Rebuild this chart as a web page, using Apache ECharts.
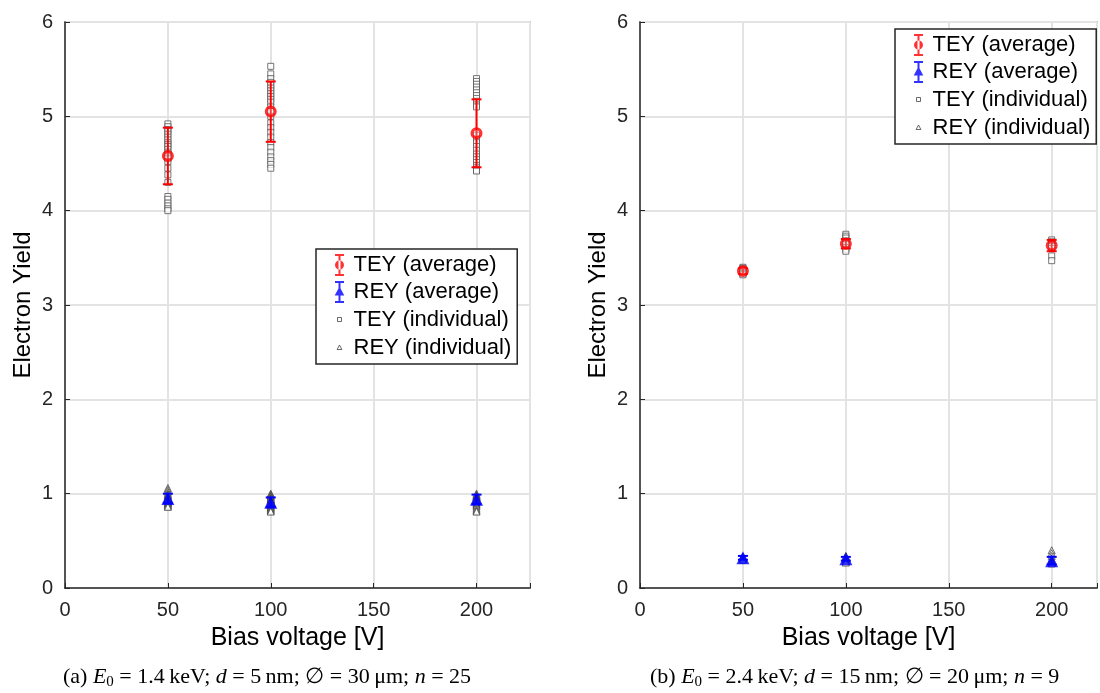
<!DOCTYPE html>
<html>
<head>
<meta charset="utf-8">
<script src="https://cdn.jsdelivr.net/npm/echarts@6/dist/echarts.min.js"></script>
<style>
html,body{margin:0;padding:0;background:#fff;}
#chart{width:1100px;height:693px;}
</style>
</head>
<body>
<div id="chart"></div>
<script>
// ---------- DATA ----------
const voltages = [50, 100, 200];
const xTicks = [0, 50, 100, 150, 200];
const yTicks = [0, 1, 2, 3, 4, 5, 6];

// Panel (a): n = 25
const aTeyIndiv50  = [4.92,4.89,4.86,4.84,4.81,4.78,4.75,4.72,4.70,4.68,4.65,4.62,4.60,4.57,4.55,4.52,4.45,4.38,4.30,4.15,4.12,4.08,4.05,4.02,4.00];
const aTeyIndiv100 = [5.53,5.45,5.40,5.36,5.33,5.30,5.27,5.24,5.21,5.18,5.15,5.10,5.05,5.00,4.93,4.88,4.83,4.78,4.72,4.67,4.62,4.57,4.53,4.49,4.45];
const aTeyIndiv200 = [5.40,5.37,5.34,5.31,5.28,5.25,5.22,5.19,5.16,5.12,5.10,4.80,4.76,4.72,4.68,4.64,4.60,4.57,4.54,4.51,4.48,4.46,4.44,4.43,4.42];
const aReyIndiv50  = [1.06,1.04,1.02,1.00,0.99,0.98,0.97,0.96,0.96,0.95,0.95,0.94,0.94,0.93,0.93,0.92,0.92,0.91,0.91,0.90,0.90,0.89,0.88,0.87,0.86];
const aReyIndiv100 = [1.00,0.99,0.98,0.97,0.96,0.95,0.94,0.94,0.93,0.93,0.92,0.92,0.91,0.91,0.90,0.90,0.89,0.88,0.87,0.86,0.85,0.84,0.83,0.82,0.81];
const aReyIndiv200 = [1.00,0.99,0.98,0.98,0.97,0.97,0.96,0.96,0.95,0.95,0.94,0.94,0.93,0.93,0.92,0.92,0.91,0.90,0.89,0.88,0.87,0.85,0.83,0.82,0.81];
const aTeyAvg = [4.58, 5.05, 4.82];
const aTeyErr = [0.30, 0.32, 0.36];
const aReyAvg = [0.95, 0.91, 0.94];
const aReyErr = [0.05, 0.05, 0.05];

// Panel (b): n = 9
const bTeyIndiv50  = [3.40,3.39,3.38,3.37,3.36,3.35,3.34,3.33,3.32];
const bTeyIndiv100 = [3.75,3.73,3.71,3.68,3.66,3.64,3.61,3.59,3.57];
const bTeyIndiv200 = [3.69,3.67,3.66,3.65,3.64,3.62,3.60,3.52,3.47];
const bReyIndiv50  = [0.33,0.33,0.32,0.32,0.32,0.31,0.31,0.31,0.30];
const bReyIndiv100 = [0.34,0.33,0.32,0.32,0.31,0.30,0.29,0.28,0.27];
const bReyIndiv200 = [0.40,0.37,0.34,0.31,0.29,0.28,0.27,0.27,0.26];
const bTeyAvg = [3.36, 3.65, 3.63];
const bTeyErr = [0.03, 0.05, 0.06];
const bReyAvg = [0.32, 0.31, 0.29];
const bReyErr = [0.02, 0.02, 0.04];

const legendNames = ['TEY (average)', 'REY (average)', 'TEY (individual)', 'REY (individual)'];
const captionA = '(a) {i|E}{s|0} = 1.4\u2009keV; {i|d} = 5\u2009nm; \u2205 = 30\u2009\u03bcm; {i|n} = 25';
const captionB = '(b) {i|E}{s|0} = 2.4\u2009keV; {i|d} = 15\u2009nm; \u2205 = 20\u2009\u03bcm; {i|n} = 9';

// ---------- BUILD ----------
const FONT = 'Liberation Sans, Arial, Helvetica, sans-serif';
const SERIF = 'Liberation Serif, Times New Roman, serif';
function indivPoints(lists) {
  const pts = [];
  lists.forEach((arr, k) => arr.forEach(v => pts.push([voltages[k], v])));
  return pts;
}
function avgPoints(avg, err) {
  return avg.map((v, k) => [voltages[k], v, err[k]]);
}
function errorSeries(name, idx, avg, err, color) {
  return {
    name: name, type: 'custom', xAxisIndex: idx, yAxisIndex: idx, z: 5,
    data: avgPoints(avg, err),
    renderItem: function (params, api) {
      const x = api.value(0), y = api.value(1), e = api.value(2);
      const lo = api.coord([x, y - e]);
      const hi = api.coord([x, y + e]);
      const cw = 5;
      const st = { stroke: color, lineWidth: 2 };
      return { type: 'group', children: [
        { type: 'line', shape: { x1: lo[0], y1: lo[1], x2: hi[0], y2: hi[1] }, style: st },
        { type: 'line', shape: { x1: lo[0] - cw, y1: lo[1], x2: lo[0] + cw, y2: lo[1] }, style: st },
        { type: 'line', shape: { x1: hi[0] - cw, y1: hi[1], x2: hi[0] + cw, y2: hi[1] }, style: st }
      ]};
    }
  };
}
function panelSeries(idx, teyI, reyI, teyA, teyE, reyA, reyE) {
  return [
    { name: 'TEY (individual)', type: 'scatter', xAxisIndex: idx, yAxisIndex: idx, z: 3,
      symbol: 'rect', symbolSize: 6, data: indivPoints(teyI),
      itemStyle: { color: '#ffffff', borderColor: '#555555', borderWidth: 1 } },
    { name: 'REY (individual)', type: 'scatter', xAxisIndex: idx, yAxisIndex: idx, z: 3,
      symbol: 'triangle', symbolSize: 7, data: indivPoints(reyI),
      itemStyle: { color: '#ffffff', borderColor: '#444444', borderWidth: 1 } },
    errorSeries('TEY err', idx, teyA, teyE, '#ff0000'),
    errorSeries('REY err', idx, reyA, reyE, '#0000ff'),
    { name: 'TEY (average)', type: 'scatter', xAxisIndex: idx, yAxisIndex: idx, z: 6,
      symbol: 'circle', symbolSize: 9, data: avgPoints(teyA, teyE).map(p => [p[0], p[1]]),
      itemStyle: { color: 'rgba(255,255,255,0.3)', borderColor: '#ff0000', borderWidth: 3 } },
    { name: 'REY (average)', type: 'scatter', xAxisIndex: idx, yAxisIndex: idx, z: 6,
      symbol: 'triangle', symbolSize: 13, data: avgPoints(reyA, reyE).map(p => [p[0], p[1]]),
      itemStyle: { color: '#0000ff' } }
  ];
}

const iconTeyAvg = 'path://M4,1L6,1L6,21L4,21Z M0.5,0L9.5,0L9.5,2L0.5,2Z M0.5,20L9.5,20L9.5,22L0.5,22Z M5,6.5A4.5,4.5 0 1,0 5,15.5A4.5,4.5 0 1,0 5,6.5Z';
const iconReyAvg = 'path://M4,1L6,1L6,21L4,21Z M0.5,0L9.5,0L9.5,2L0.5,2Z M0.5,20L9.5,20L9.5,22L0.5,22Z M5,5.5L9.8,14.5L0.2,14.5Z';
const iconTeyInd = 'path://M3,9L7,9L7,13L3,13Z M0,0L0,0Z M10,22L10,22Z';
const iconReyInd = 'path://M5,8.5L7.4,13L2.6,13Z M0,0L0,0Z M10,22L10,22Z';

function legendData() {
  return [
    { name: legendNames[0], icon: iconTeyAvg, itemStyle: { color: '#ff0000', borderWidth: 0 } },
    { name: legendNames[1], icon: iconReyAvg, itemStyle: { color: '#0000ff', borderWidth: 0 } },
    { name: legendNames[2], icon: iconTeyInd, itemStyle: { color: '#ffffff', borderColor: '#444444', borderWidth: 1 } },
    { name: legendNames[3], icon: iconReyInd, itemStyle: { color: '#ffffff', borderColor: '#444444', borderWidth: 1 } }
  ];
}
function legendCfg(left, top) {
  return {
    orient: 'vertical', left: left, top: top,
    data: legendData(), selectedMode: false,
    itemWidth: 10, itemHeight: 22, itemGap: 5,
    padding: [5, 6, 5, 18],
    backgroundColor: '#ffffff', borderColor: '#262626', borderWidth: 1.5, borderRadius: 0,
    textStyle: { fontFamily: FONT, fontSize: 22, color: '#000', padding: [0, 0, 0, 4] }
  };
}

function xAxisCfg(idx, max) {
  return {
    type: 'value', gridIndex: idx, min: 0, max: max, interval: 50,
    name: 'Bias voltage [V]', nameLocation: 'middle', nameGap: 38,
    nameTextStyle: { fontFamily: FONT, fontSize: 25, color: '#000' },
    axisLine: { show: true, onZero: false, lineStyle: { color: '#262626', width: 1.5 } },
    axisTick: { show: true, inside: true, length: 5, lineStyle: { color: '#262626' } },
    axisLabel: { fontFamily: FONT, fontSize: 20, color: '#262626', margin: 12,
      formatter: v => (xTicks.indexOf(v) >= 0 ? String(v) : '') },
    splitLine: { show: true, lineStyle: { color: '#e3e3e3', width: 2 } }
  };
}
function yAxisCfg(idx) {
  return {
    type: 'value', gridIndex: idx, min: 0, max: 6, interval: 1,
    name: 'Electron Yield', nameLocation: 'middle', nameGap: 30,
    nameTextStyle: { fontFamily: FONT, fontSize: 24, color: '#000' },
    axisLine: { show: true, onZero: false, lineStyle: { color: '#262626', width: 1.5 } },
    axisTick: { show: true, inside: true, length: 5, lineStyle: { color: '#262626' } },
    axisLabel: { fontFamily: FONT, fontSize: 20, color: '#262626', margin: 12,
      formatter: v => (yTicks.indexOf(v) >= 0 ? String(v) : '') },
    splitLine: { show: true, lineStyle: { color: '#e3e3e3', width: 2 } }
  };
}

const capRich = {
  i: { fontFamily: SERIF, fontStyle: 'italic', fontSize: 22, fill: '#000' },
  s: { fontFamily: SERIF, fontSize: 15, padding: [11, 0, 0, 0], fill: '#000' }
};

const option = {
  animation: false,
  backgroundColor: '#ffffff',
  grid: [
    { left: 65, top: 22, width: 465, height: 566, show: true, borderColor: '#262626', borderWidth: 1.2, backgroundColor: 'transparent' },
    { left: 640, top: 22, width: 458, height: 566, show: true, borderColor: '#262626', borderWidth: 1.2, backgroundColor: 'transparent' }
  ],
  xAxis: [xAxisCfg(0, 226), xAxisCfg(1, 222)],
  yAxis: [yAxisCfg(0), yAxisCfg(1)],
  legend: [legendCfg(316, 249), legendCfg(895, 29)],
  series: [].concat(
    panelSeries(0, [aTeyIndiv50, aTeyIndiv100, aTeyIndiv200], [aReyIndiv50, aReyIndiv100, aReyIndiv200], aTeyAvg, aTeyErr, aReyAvg, aReyErr),
    panelSeries(1, [bTeyIndiv50, bTeyIndiv100, bTeyIndiv200], [bReyIndiv50, bReyIndiv100, bReyIndiv200], bTeyAvg, bTeyErr, bReyAvg, bReyErr)
  ),
  graphic: [
    { type: 'text', left: 63, top: 666, style: { text: captionA, fontFamily: SERIF, fontSize: 22, fill: '#000', rich: capRich } },
    { type: 'text', left: 650, top: 666, style: { text: captionB, fontFamily: SERIF, fontSize: 22, fill: '#000', rich: capRich } }
  ]
};

const chart = echarts.init(document.getElementById('chart'), null, { renderer: 'canvas' });
chart.setOption(option);
</script>
</body>
</html>
